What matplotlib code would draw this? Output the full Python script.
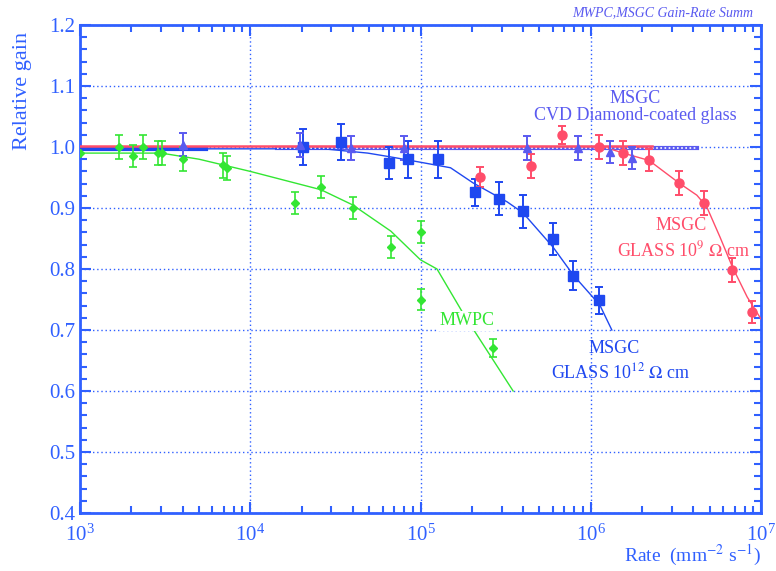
import numpy as np
import matplotlib.pyplot as plt
from matplotlib.ticker import MultipleLocator, LogLocator, NullFormatter

plt.rcParams['font.family'] = ['Liberation Serif', 'DejaVu Serif']
plt.rcParams['mathtext.fontset'] = 'stix'

C_AX = '#3060ff'
C_GREEN = '#33e633'
C_BLUE = '#1f48f0'
C_RED = '#ff4d6a'
C_PURP = '#5a5af0'

# MWPC (green)
mwpc_rate = [1000, 1700, 2050, 2350, 2870, 3030, 4000, 6900, 7300, 18200, 26000, 40000, 67000, 100000, 100000, 268000]
mwpc_gain = [0.99, 1.0, 0.985, 1.0, 0.99, 0.99, 0.98, 0.97, 0.966, 0.908, 0.935, 0.90, 0.836, 0.861, 0.75, 0.67]
mwpc_err = [0.0, 0.02, 0.018, 0.02, 0.02, 0.02, 0.02, 0.02, 0.02, 0.018, 0.018, 0.018, 0.018, 0.018, 0.018, 0.015]
mwpc_fit_x = [1000, 3000, 5000, 10000, 26000, 40000, 67000, 100000, 125000, 180000, 350000]
mwpc_fit_y = [0.99, 0.99, 0.98, 0.96, 0.93, 0.905, 0.862, 0.815, 0.80, 0.725, 0.60]

# MSGC glass 1e12 (blue squares)
g12_rate = [20500, 34000, 65000, 85000, 126000, 209000, 288000, 400000, 600000, 785000, 1120000]
g12_gain = [1.0, 1.008, 0.974, 0.98, 0.98, 0.926, 0.915, 0.895, 0.849, 0.789, 0.749]
g12_err = [0.03, 0.03, 0.026, 0.03, 0.03, 0.022, 0.027, 0.027, 0.026, 0.024, 0.022]
g12_fit_x = [1000, 20000, 27000, 49000, 66000, 100000, 150000, 204000, 323000, 400000, 600000, 790000, 1130000, 1330000]
g12_fit_y = [0.997, 0.997, 0.997, 0.99, 0.984, 0.975, 0.966, 0.941, 0.91, 0.892, 0.836, 0.79, 0.741, 0.70]

# MSGC glass 1e9 (red circles)
g9_rate = [224000, 446000, 678000, 1120000, 1550000, 2200000, 3300000, 4600000, 6800000, 8900000]
g9_gain = [0.951, 0.969, 1.02, 1.0, 0.99, 0.979, 0.941, 0.908, 0.798, 0.729]
g9_err = [0.017, 0.02, 0.015, 0.02, 0.02, 0.018, 0.02, 0.02, 0.02, 0.018]
g9_fit_x = [1200000, 1550000, 2200000, 3300000, 4200000, 4800000, 5750000, 6800000, 8300000, 10000000]
g9_fit_y = [1.0, 0.99, 0.978, 0.941, 0.921, 0.902, 0.852, 0.803, 0.754, 0.718]

# MSGC CVD diamond-coated glass (purple triangles)
cvd_rate = [4000, 19700, 39000, 80000, 420000, 840000, 1290000, 1740000]
cvd_gain = [1.004, 1.003, 0.998, 0.998, 0.998, 0.998, 0.992, 0.982]
cvd_err = [0.019, 0.02, 0.02, 0.02, 0.02, 0.02, 0.018, 0.018]

fig = plt.figure(figsize=(7.76, 5.71), dpi=100)
ax = fig.add_axes([80/776, 1-513/571, 681/776, 488/571])
ax.set_xscale('log')
ax.set_xlim(1e3, 1e7)
ax.set_ylim(0.4, 1.2)

# flat reference lines near 1.0
ax.plot([1e3, 5.5e3], [0.996, 0.996], color=C_BLUE, lw=3, zorder=3)
ax.plot([1e3, 2.3e6], [1.002, 1.002], color=C_RED, lw=1.8, zorder=4)
ax.plot([1.43e4, 4.2e6], [0.998, 0.998], color=C_PURP, lw=3, zorder=3)
ax.plot([1.43e4, 4.2e6], [0.998, 0.998], color='white', lw=1.2,
        ls=(0, (1, 1.5)), zorder=3.5)

ax.plot(mwpc_fit_x, mwpc_fit_y, color=C_GREEN, lw=1, zorder=3)
ax.plot(g12_fit_x, g12_fit_y, color=C_BLUE, lw=1, zorder=3)
ax.plot(g9_fit_x, g9_fit_y, color=C_RED, lw=1, zorder=3)

ax.errorbar(mwpc_rate, mwpc_gain, yerr=mwpc_err, fmt='D', color=C_GREEN, ms=4,
            capsize=3, elinewidth=1.2, capthick=1.2, zorder=5)
ax.errorbar(g12_rate, g12_gain, yerr=g12_err, fmt='s', color=C_BLUE, ms=6.5,
            capsize=3, elinewidth=1.4, capthick=1.4, zorder=5)
ax.errorbar(g9_rate, g9_gain, yerr=g9_err, fmt='o', color=C_RED, ms=6.5,
            capsize=3, elinewidth=1.4, capthick=1.4, zorder=5)
ax.errorbar(cvd_rate, cvd_gain, yerr=cvd_err, fmt='^', color=C_PURP, ms=5.5,
            capsize=3, elinewidth=1.4, capthick=1.4, zorder=5)

# axes styling
for s in ax.spines.values():
    s.set_color(C_AX)
    s.set_linewidth(2)
ax.yaxis.set_major_locator(MultipleLocator(0.1))
ax.yaxis.set_minor_locator(MultipleLocator(0.02))
ax.yaxis.set_major_formatter(plt.FormatStrFormatter('%.1f'))
ax.xaxis.set_major_locator(LogLocator(base=10, numticks=10))
ax.xaxis.set_minor_locator(LogLocator(base=10, subs=np.arange(2, 10), numticks=10))
ax.xaxis.set_minor_formatter(NullFormatter())
ax.tick_params(which='both', direction='in', top=True, right=True, color=C_AX,
               labelcolor=C_AX, labelsize=15, width=1.5)
ax.tick_params(which='major', length=8)
ax.tick_params(which='minor', length=5)
ax.tick_params(axis='x', pad=8)
ax.grid(True, which='major', color=C_AX, ls=(0, (1, 2)), lw=1)
ax.set_axisbelow(True)

ax.text(-0.085, 0.985, 'Relative gain', transform=ax.transAxes, rotation=90,
        ha='center', va='top', color=C_AX, fontsize=16)
ax.text(1.0, -0.088, r'Rate  (mm$^{-2}$ s$^{-1}$)', transform=ax.transAxes,
        ha='right', va='center', color=C_AX, fontsize=14)
fig.text(753/776, 1-13/571, 'MWPC,MSGC Gain-Rate Summ', ha='right', va='center',
         color=C_PURP, fontsize=10, style='italic')

ax.text(1.82e6, 1.08, 'MSGC', ha='center', va='center', color=C_PURP, fontsize=13)
ax.text(1.82e6, 1.051, 'CVD Diamond-coated glass', ha='center', va='center',
        color=C_PURP, fontsize=13)
ax.text(3.4e6, 0.872, 'MSGC', ha='center', va='center', color=C_RED, fontsize=13)
ax.text(3.5e6, 0.831, r'GLASS 10$^9$ $\Omega$ cm', ha='center', va='center',
        color=C_RED, fontsize=13)
ax.text(1.38e6, 0.669, 'MSGC', ha='center', va='center', color=C_BLUE, fontsize=13)
ax.text(1.5e6, 0.631, r'GLASS 10$^{12}$ $\Omega$ cm', ha='center', va='center',
        color=C_BLUE, fontsize=13)
ax.text(1.87e5, 0.715, 'MWPC', ha='center', va='center', color=C_GREEN, fontsize=13,
        bbox=dict(facecolor='white', edgecolor='none', pad=1), zorder=4)

fig.savefig('out.png', dpi=100)
